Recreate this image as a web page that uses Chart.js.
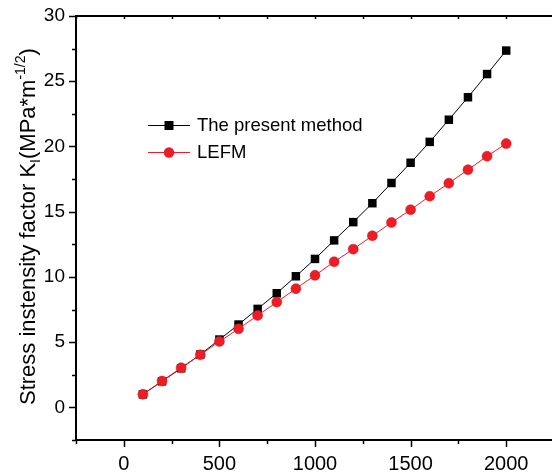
<!DOCTYPE html>
<html>
<head>
<meta charset="utf-8">
<script src="https://cdn.jsdelivr.net/npm/chart.js@4.4.0/dist/chart.umd.min.js"></script>
<style>
html, body { margin: 0; padding: 0; overflow: hidden; background: #fff; }
canvas { display: block; }
</style>
</head>
<body>
<canvas id="kiChart" width="560" height="476"></canvas>
<script>
// data
var loads = [100, 200, 300, 400, 500, 600, 700, 800, 900, 1000, 1100, 1200, 1300, 1400, 1500, 1600, 1700, 1800, 1900, 2000];
var presentMethod = [1.0, 2.0, 3.0, 4.05, 5.2, 6.35, 7.55, 8.75, 10.05, 11.38, 12.8, 14.2, 15.65, 17.2, 18.75, 20.35, 22.05, 23.77, 25.55, 27.35];
var lefm = [1.0, 2.02, 3.04, 4.03, 5.05, 6.02, 7.05, 8.07, 9.1, 10.12, 11.16, 12.13, 13.15, 14.17, 15.15, 16.19, 17.18, 18.22, 19.25, 20.22];
var seriesNames = ["The present method", "LEFM"];
var xTicks = [0, 500, 1000, 1500, 2000];
var yTicks = [0, 5, 10, 15, 20, 25, 30];

var FONT = '"Liberation Sans", Arial, sans-serif';
var RED = '#ee1c25';

function toPoints(xs, ys) {
  return xs.map(function (x, i) { return { x: x, y: ys[i] }; });
}

// top axis, tick marks (major + minor), y title and legend
var framePlugin = {
  id: 'frame',
  afterDraw: function (chart) {
    var ctx = chart.ctx;
    var a = chart.chartArea;
    var xs = chart.scales.x, ys = chart.scales.y;
    ctx.save();
    ctx.strokeStyle = '#000';
    ctx.lineWidth = 2;
    ctx.beginPath();
    ctx.moveTo(a.left - 1, a.top);
    ctx.lineTo(a.right, a.top);
    ctx.stroke();

    ctx.lineWidth = 1.5;
    ctx.beginPath();
    for (var v = -2.5; v <= 30; v += 2.5) {
      var py = Math.round(ys.getPixelForValue(v)) + 0.5;
      var len = (v % 5 === 0) ? 7 : 4;
      ctx.moveTo(a.left - len, py);
      ctx.lineTo(a.left, py);
    }
    for (var u = -250; u <= 2250; u += 250) {
      var px = Math.round(xs.getPixelForValue(u)) + 0.5;
      var l2 = (u % 500 === 0) ? 7 : 4;
      ctx.moveTo(px, a.bottom);
      ctx.lineTo(px, a.bottom + l2);
      ctx.moveTo(px, a.top);
      ctx.lineTo(px, a.top + 3);
    }
    ctx.stroke();

    // y axis title with subscript and superscript
    ctx.save();
    ctx.translate(35, 405);
    ctx.rotate(-Math.PI / 2);
    ctx.fillStyle = '#000';
    ctx.textBaseline = 'alphabetic';
    ctx.textAlign = 'left';
    var pos = 0;
    function put(txt, size, dy) {
      ctx.font = size + 'px ' + FONT;
      ctx.fillText(txt, pos, dy);
      pos += ctx.measureText(txt).width;
    }
    put('Stress instensity factor K', 22, 0);
    put('I', 14, 5);
    put('(MPa*m', 22, 0);
    put('-1/2', 14, -10);
    put(')', 22, 0);
    ctx.restore();

    // legend
    var rows = [
      { y: 125, ds: chart.data.datasets[0] },
      { y: 152, ds: chart.data.datasets[1] }
    ];
    rows.forEach(function (r) {
      ctx.strokeStyle = r.ds.borderColor;
      ctx.fillStyle = r.ds.pointBackgroundColor;
      ctx.lineWidth = 1;
      ctx.beginPath();
      ctx.moveTo(148, r.y + 0.5);
      ctx.lineTo(190, r.y + 0.5);
      ctx.stroke();
      if (r.ds.pointStyle === 'rect') {
        ctx.fillRect(169 - 4.5, r.y - 4, 9, 9);
      } else {
        ctx.beginPath();
        ctx.arc(169, r.y + 0.5, 5.2, 0, Math.PI * 2);
        ctx.fill();
      }
      ctx.fillStyle = '#000';
      ctx.font = '18.5px ' + FONT;
      ctx.textBaseline = 'middle';
      ctx.fillText(r.ds.label, 197, r.y + 1);
    });
    ctx.restore();
  }
};

var ctxK = document.getElementById('kiChart').getContext('2d');
var kiChart = new Chart(ctxK, {
  type: 'scatter',
  data: {
    datasets: [{
      label: seriesNames[0],
      data: toPoints(loads, presentMethod),
      showLine: true,
      borderColor: '#000',
      borderWidth: 1,
      pointStyle: 'rect',
      pointRadius: 6,
      pointBackgroundColor: '#000',
      pointBorderColor: '#000',
      pointBorderWidth: 0,
      order: 1
    }, {
      label: seriesNames[1],
      data: toPoints(loads, lefm),
      showLine: true,
      borderColor: RED,
      borderWidth: 1,
      pointStyle: 'circle',
      pointRadius: 5,
      pointBackgroundColor: RED,
      pointBorderColor: '#d0181f',
      pointBorderWidth: 0.5,
      order: 0
    }]
  },
  options: {
    responsive: false,
    animation: false,
    devicePixelRatio: 1,
    layout: { padding: { left: 0, top: 16, right: 4, bottom: 0 } },
    plugins: { legend: { display: false }, tooltip: { enabled: false } },
    scales: {
      x: {
        type: 'linear',
        min: -250,
        max: 2250,
        afterBuildTicks: function (s) { s.ticks = xTicks.map(function (v) { return { value: v }; }); },
        afterFit: function (s) { s.height = 36; },
        grid: { display: false, drawTicks: true, tickLength: 7 },
        border: { display: true, color: '#000', width: 2 },
        ticks: {
          color: '#000', font: { family: FONT, size: 20 }, padding: 5, maxRotation: 0,
          callback: function (v) { return String(v); }
        }
      },
      y: {
        type: 'linear',
        min: -2.5,
        max: 30,
        afterBuildTicks: function (s) { s.ticks = yTicks.map(function (v) { return { value: v }; }); },
        afterFit: function (s) { s.width = 76; },
        grid: { display: false, drawTicks: true, tickLength: 7 },
        border: { display: true, color: '#000', width: 2 },
        ticks: {
          color: '#000', font: { family: FONT, size: 19 }, padding: 4,
          callback: function (v) { return String(v); }
        }
      }
    }
  },
  plugins: [framePlugin]
});
</script>
</body>
</html>
